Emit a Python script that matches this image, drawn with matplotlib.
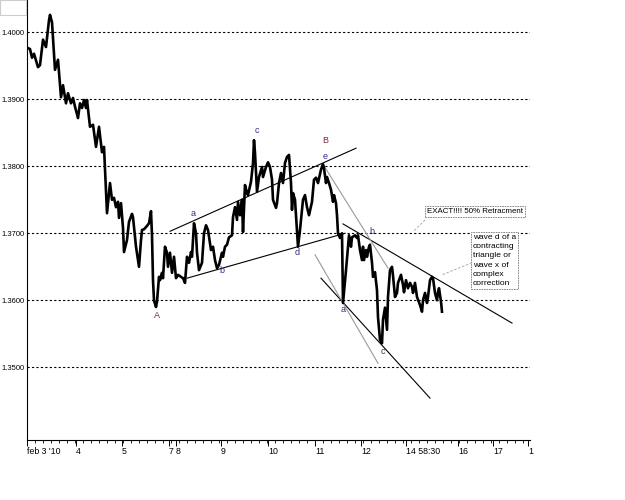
import matplotlib
matplotlib.use("Agg")
import matplotlib.pyplot as plt
from matplotlib.patches import Rectangle
from matplotlib.ticker import MultipleLocator, FixedLocator

plt.rcParams['font.family'] = ['Liberation Sans', 'DejaVu Sans']

# half-hour bars since feb 3 '10, and EUR/USD price
bars = [0, 3, 5, 7, 11, 13, 16, 19, 22, 23, 25, 28, 30, 31, 34, 36, 39, 41, 44, 46,
        48, 51, 53, 55, 57, 59, 60, 63, 66, 69, 72, 75, 77, 80, 83, 85, 87, 89, 91, 92,
        94, 96, 97, 100, 102, 105, 106, 109, 112, 114, 115, 117, 120, 122, 124, 125, 126, 127, 129, 130,
        132, 133, 135, 136, 138, 140, 141, 143, 145, 147, 149, 151, 154, 156, 158, 160, 162, 164, 165, 167,
        169, 170, 172, 175, 177, 179, 181, 184, 186, 188, 190, 192, 195, 196, 198, 200, 202, 205, 206, 208,
        210, 211, 213, 215, 216, 218, 220, 221, 224, 226, 227, 228, 230, 232, 235, 236, 239, 241, 243, 245,
        246, 249, 250, 252, 254, 256, 258, 260, 262, 264, 265, 266, 268, 270, 271, 273, 275, 276, 278, 280,
        282, 285, 287, 289, 291, 294, 296, 297, 299, 300, 302, 304, 306, 307, 309, 310, 311, 313, 315, 316,
        319, 321, 322, 324, 325, 328, 330, 331, 333, 335, 336, 337, 339, 340, 342, 343, 345, 346, 348, 350,
        351, 353, 355, 356, 358, 360, 361, 363, 365, 366, 368, 370, 371, 374, 376, 377, 379, 381, 383, 385,
        386, 388, 390, 393, 395, 396, 398, 400, 401, 403, 405, 406, 408, 410, 411, 412, 414, 415]
price = [1.3977, 1.3975, 1.3962, 1.3968, 1.3948, 1.3951, 1.3989, 1.3978, 1.4018, 1.4026, 1.4015, 1.3944, 1.3954, 1.3959, 1.3903, 1.3921, 1.3894, 1.3909, 1.3894, 1.3902,
         1.3889, 1.3872, 1.3894, 1.3887, 1.3899, 1.3887, 1.3899, 1.3859, 1.3862, 1.3829, 1.3859, 1.3821, 1.3829, 1.3730, 1.3775, 1.3750, 1.3753, 1.3739, 1.3747, 1.3723,
         1.3745, 1.3708, 1.3672, 1.3690, 1.3717, 1.3729, 1.3724, 1.3680, 1.3650, 1.3690, 1.3705, 1.3706, 1.3711, 1.3715, 1.3733, 1.3697, 1.3630, 1.3600, 1.3590, 1.3598,
         1.3635, 1.3630, 1.3641, 1.3633, 1.3680, 1.3671, 1.3650, 1.3671, 1.3641, 1.3665, 1.3633, 1.3638, 1.3635, 1.3633, 1.3626, 1.3665, 1.3656, 1.3672, 1.3665, 1.3715,
         1.3700, 1.3671, 1.3645, 1.3656, 1.3700, 1.3712, 1.3705, 1.3675, 1.3680, 1.3660, 1.3648, 1.3653, 1.3671, 1.3665, 1.3680, 1.3683, 1.3694, 1.3697, 1.3724, 1.3739,
         1.3720, 1.3747, 1.3727, 1.3750, 1.3702, 1.3772, 1.3760, 1.3757, 1.3777, 1.3805, 1.3839, 1.3820, 1.3762, 1.3784, 1.3799, 1.3784, 1.3799, 1.3806, 1.3799, 1.3780,
         1.3750, 1.3738, 1.3745, 1.3775, 1.3790, 1.3775, 1.3805, 1.3814, 1.3817, 1.3775, 1.3735, 1.3760, 1.3750, 1.3705, 1.3680, 1.3705, 1.3735, 1.3750, 1.3757, 1.3739,
         1.3727, 1.3747, 1.3780, 1.3783, 1.3775, 1.3795, 1.3803, 1.3797, 1.3775, 1.3784, 1.3775, 1.3765, 1.3747, 1.3757, 1.3745, 1.3727, 1.3700, 1.3693, 1.3700, 1.3596,
         1.3645, 1.3680, 1.3697, 1.3680, 1.3694, 1.3697, 1.3693, 1.3697, 1.3675, 1.3660, 1.3680, 1.3660, 1.3675, 1.3665, 1.3680, 1.3683, 1.3656, 1.3635, 1.3642, 1.3615,
         1.3575, 1.3541, 1.3536, 1.3571, 1.3589, 1.3556, 1.3605, 1.3645, 1.3650, 1.3637, 1.3605, 1.3611, 1.3626, 1.3638, 1.3623, 1.3612, 1.3630, 1.3618, 1.3626, 1.3620,
         1.3611, 1.3626, 1.3605, 1.3593, 1.3583, 1.3600, 1.3611, 1.3596, 1.3605, 1.3630, 1.3635, 1.3633, 1.3611, 1.3600, 1.3612, 1.3618, 1.3598, 1.3583]

tick_pos = [0, 49, 95, 142, 149, 194, 241, 288, 334, 379, 431, 466, 501]
tick_labels = ["feb 3 '10", "4", "5", "7", "8", "9", "10", "11", "12", "14 58:30", "16", "17", "1"]
price_levels = [1.35, 1.36, 1.37, 1.38, 1.39, 1.40]

# trend lines: (bar0, price0, bar1, price1)
black_lines = [(143, 1.3703, 329, 1.3827),   # upper channel
               (160, 1.3633, 318, 1.3700),   # lower channel
               (316, 1.3714, 485, 1.3566),   # triangle top
               (294, 1.3633, 403, 1.3454)]   # lower support
gray_lines = [(296, 1.3803, 361, 1.3648),
              (288, 1.3668, 351, 1.3506)]
connectors = [(398, 1.3720, 386, 1.3702),
              (445, 1.3656, 415, 1.3638)]

wave_labels = ["a", "b", "c", "d", "e", "B", "A", "a", "b", "c"]
wave_x = [166, 195, 230, 270, 298, 298, 130, 316, 345, 356]
wave_y = [1.3729, 1.3645, 1.3854, 1.3671, 1.3814, 1.3838, 1.3577, 1.3586, 1.3702, 1.3523]

fig = plt.figure(figsize=(6.25, 5), dpi=100)
ax = fig.add_axes([27 / 625, 60 / 500, 503 / 625, 440 / 500])

for lvl in price_levels:
    ax.axhline(lvl, color='black', lw=0.8, linestyle=(0, (2, 2)), zorder=1)

for x0, y0, x1, y1 in black_lines:
    ax.plot([x0, x1], [y0, y1], color='black', lw=0.8, zorder=2)
for x0, y0, x1, y1 in gray_lines:
    ax.plot([x0, x1], [y0, y1], color='#9a9a9a', lw=0.8, zorder=2)
for x0, y0, x1, y1 in connectors:
    ax.plot([x0, x1], [y0, y1], color='#a0a0a0', lw=0.6, linestyle=(0, (3, 2)), zorder=2)

ax.plot(bars, price, color='black', lw=1.9, zorder=3, solid_joinstyle='round')

for lab, x, y in zip(wave_labels, wave_x, wave_y):
    col = '#7a2a3a' if lab.isupper() else '#2e2e8a'
    ax.text(x, y, lab, color=col, fontsize=6.5, ha='center', va='center', zorder=4)

box = dict(boxstyle='square,pad=0.25', fc='white', ec='#777777', lw=0.6, ls=(0, (2, 1)))
ax.text(400, 1.3732, "EXACT!!!! 50% Retracment", fontsize=5.7, ha='left', va='center',
        bbox=box, zorder=5)
ax.text(446, 1.3699, "wave d of a\ncontracting\ntriangle or\nwave x of\ncomplex\ncorrection",
        fontsize=6, ha='left', va='top', linespacing=1.45, bbox=box, zorder=5)

ax.set_xlim(0, 503)
ax.set_ylim(1.33915, 1.40482)

ax.spines['top'].set_visible(False)
ax.spines['right'].set_visible(False)
ax.spines['left'].set_linewidth(0.8)
ax.spines['bottom'].set_linewidth(0.8)

ax.set_yticks(price_levels)
ax.set_yticklabels([f"{v:.4f}" for v in price_levels], fontsize=5.5)
ax.tick_params(axis='y', length=0, pad=1.5)

ax.xaxis.set_major_locator(FixedLocator(tick_pos))
ax.set_xticklabels(tick_labels, fontsize=6.3)
for lbl in ax.get_xticklabels():
    lbl.set_horizontalalignment('left')
ax.xaxis.set_minor_locator(MultipleLocator(8))
ax.tick_params(axis='x', which='major', length=4, width=0.7, pad=1)
ax.tick_params(axis='x', which='minor', length=2, width=0.6)

fig.patches.append(Rectangle((0, 1 - 15 / 500), 26 / 625, 15 / 500, transform=fig.transFigure,
                             fill=False, ec='#cccccc', lw=0.8))

fig.savefig("out.png", dpi=100, facecolor='white')
